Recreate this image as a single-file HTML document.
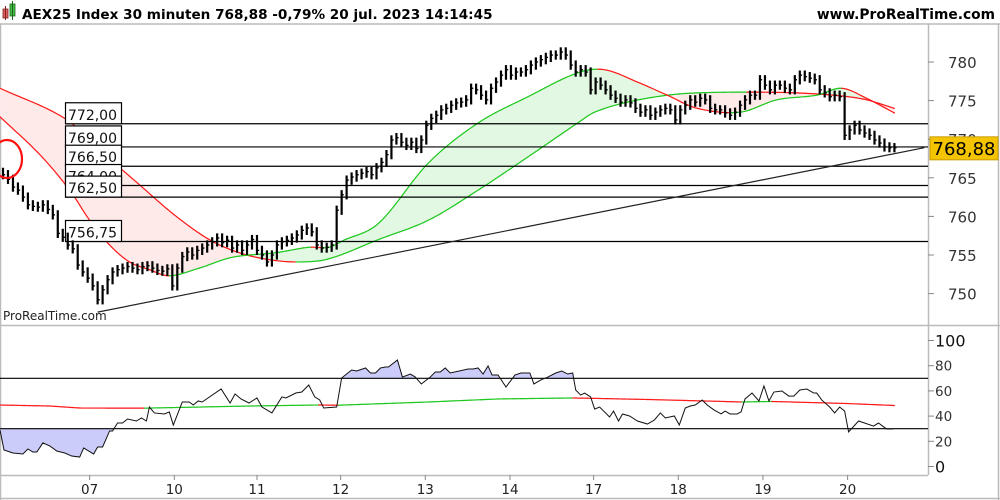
<!DOCTYPE html>
<html><head><meta charset="utf-8"><style>
html,body{margin:0;padding:0;background:#fff;}
svg{display:block;font-family:"DejaVu Sans","Liberation Sans",sans-serif;}
</style></head><body>
<svg id="chart" width="1000" height="500" viewBox="0 0 1000 500">
  <rect x="0" y="0" width="1000" height="500" fill="#fff"/>
  <g>
    <rect x="3" y="9" width="5" height="9" fill="#e06060" stroke="#802020" stroke-width="0.8"/>
    <line x1="5.5" y1="6" x2="5.5" y2="20" stroke="#802020"/>
    <rect x="10" y="4" width="5" height="12" fill="#40c040" stroke="#206020" stroke-width="0.8"/>
    <line x1="12.5" y1="1" x2="12.5" y2="20" stroke="#206020"/>
    <text x="22" y="19" font-size="13.6" font-weight="bold" fill="#000">AEX25 Index 30 minuten 768,88 -0,79% 20 jul. 2023 14:14:45</text>
    <text x="995" y="19" font-size="13.8" font-weight="bold" fill="#000" text-anchor="end">www.ProRealTime.com</text>
  </g>
  <g stroke="#bbb" stroke-width="1.5" fill="none">
    <line x1="0" y1="24" x2="1000" y2="24"/>
    <line x1="0" y1="325.5" x2="1000" y2="325.5"/>
    <line x1="0" y1="475.5" x2="928" y2="475.5"/>
    <line x1="928.5" y1="24" x2="928.5" y2="475"/>
    <line x1="0.5" y1="24" x2="0.5" y2="500"/>
    <line x1="998.5" y1="24" x2="998.5" y2="500"/>
    <line x1="0" y1="498.5" x2="1000" y2="498.5"/>
  </g>
  <g id="main"></g>
  <g id="rsi"></g>
  <text x="3" y="320" font-size="12" fill="#222">ProRealTime.com</text>
</svg>
<script>
const closes=[765.4,764.8,763.8,763.4,762.5,761.5,761.3,761.2,761.5,760.9,760.2,757.8,757.3,756.3,755.8,753.7,752.8,752.0,751.0,749.2,
750.5,751.8,752.8,753.1,753.3,753.5,753.3,753.1,753.5,753.6,753.3,753.0,752.9,753.2,751.0,753.3,754.8,755.4,755.0,755.6,
755.9,756.3,756.7,757.2,756.6,756.9,755.9,756.3,755.6,756.3,757.0,755.6,755.0,754.1,755.0,756.3,756.7,756.9,757.2,757.6,
758.2,758.5,758.0,756.3,755.9,756.0,756.3,760.8,762.8,764.7,765.1,765.4,765.6,765.8,765.4,766.3,767.0,768.0,769.9,770.2,
769.6,769.2,769.6,768.8,769.9,771.8,772.7,773.1,773.8,774.0,774.4,774.7,774.8,775.1,776.6,776.4,775.7,775.1,776.6,777.4,
778.3,779.0,778.3,778.7,778.7,779.0,779.6,780.0,780.3,780.6,780.9,780.9,781.3,780.9,779.6,778.7,779.0,778.7,776.4,777.4,
777.0,776.4,775.7,775.3,774.8,775.1,774.7,774.0,773.5,773.8,773.1,773.5,773.8,774.0,773.8,772.5,773.8,774.4,775.1,774.8,
775.3,775.1,774.0,773.8,773.8,773.4,773.1,773.5,774.4,775.1,775.7,775.7,777.7,777.0,776.4,777.0,777.0,776.6,776.4,777.7,
778.3,778.1,777.9,777.7,776.4,776.0,775.5,775.7,775.5,770.5,771.2,771.8,771.2,770.8,770.5,769.9,769.5,769.0,768.9,768.9];
const slowT=[-0.6,12.4,19.4,27.4,34.4,41.4,47.4,53.4,59.4,65.4,75.4,85.4,95.4,105.4,115.4,118.8,125.4,133.4,139.4,149.4,159.4,168.4,173.4,179];
const slowV=[776.6,772.7,768.6,764.1,760.2,757.0,755.3,754.4,754.1,754.5,757.0,759.5,763.4,767.7,772.1,773.5,774.8,775.7,776.0,776.1,776.0,775.6,775.1,774.0];
const fastT=[-0.6,7.4,13.4,17.4,21.4,25.4,29.4,33.4,39.4,46,54.8,61.4,65.4,68.4,75.4,85.4,95.4,105.4,115.4,120.8,127.4,133.4,139.4,148,155.4,163.4,168.4,173.4,179];
const fastV=[772.9,768.0,763.4,759.5,756.3,754.1,753.1,752.3,753.3,754.7,755.3,756.0,756.0,756.9,759.1,766.9,772.1,775.5,778.6,779.0,777.4,775.7,774.0,773.5,775.1,775.7,776.6,775.3,773.4];
const levels=[772.00,769.00,766.50,764.00,762.50,756.75];
const trendT=[19,185];
const trendV=[747.6,768.9];
const lastPrice=768.88;
const priceTicks=[780,775,770,765,760,755,750];
const dayLabels=["07","10","11","12","13","14","17","18","19","20"];
const dayBars=[17.4,34.4,51.0,67.8,84.8,101.8,118.6,135.6,152.6,169.6];
const rsiT=[-0.6,0.2,2,4,5,6,6.8,8,9.4,10.8,12.4,13.8,15.4,16.2,18.2,19,20,21.4,22,23,24,25,26.8,27.8,28.8,29.4,30.4,32.4,33.4,34.2,36,37.4,38.2,39.2,40,43.8,45.6,46.6,47.8,49.4,51,52,54,56,56.8,58.8,60,61.4,62.6,63.6,64.4,67,68,70,71,72.8,73.8,74.8,75.8,76.8,77.4,79.2,80.2,81.8,82.8,84,85.8,86.8,87.8,88.8,89.8,93.4,94.4,95.4,96.4,97.4,98.2,99.4,101,102.8,104,105.8,106.6,108,109.4,111,112.2,113.4,114.4,115,116,116.8,118,118.8,119.8,121.8,122.6,123.6,124.4,125.8,127.4,129.4,130.8,132,133,134.8,135.8,137,138,139,140.4,141.4,142.8,144.2,145,146,147.4,148.2,149,150.4,151.8,152.8,153.8,154.8,156.4,157.8,158.8,160,161.4,162.8,163.4,164.4,166,167,168,169,169.8,171.8,173,174.8,175.8,177.4,178.8];
const rsiV=[29.0,13.1,10.7,9.9,13.9,11.5,11.5,18.7,16.3,12.3,10.7,8.3,7.5,14.7,9.9,15.5,15.5,28.2,28.2,34.5,34.5,37.7,36.1,38.5,36.1,47.2,42.5,41.7,43.3,32.9,51.2,51.2,48.8,52.0,51.2,61.5,50.4,57.5,53.6,50.4,54.4,47.2,42.5,55.2,54.4,58.3,59.1,64.7,55.2,52.8,46.4,47.2,70.2,76.6,75.8,78.2,74.2,74.2,78.2,79.0,79.0,84.5,71.0,73.4,71.0,65.5,71.0,75.0,75.0,78.2,74.2,77.4,77.4,78.2,73.4,79.8,72.6,72.6,63.1,72.6,74.2,74.2,65.5,68.7,71.0,74.2,75.8,73.4,74.2,60.7,56.7,58.3,55.2,45.6,47.2,39.3,44.0,36.1,41.7,40.1,36.1,33.7,36.9,42.5,38.5,40.1,32.9,46.4,48.0,48.8,52.8,48.8,44.8,41.7,44.0,41.7,41.7,43.3,53.6,58.3,52.0,63.9,52.0,59.1,59.9,55.9,55.9,60.7,61.5,58.3,58.3,52.8,47.2,42.5,47.2,44.0,27.4,36.1,34.5,32.1,34.5,29.8,29.8];
const sigT=[-0.6,9.4,15.4,28.4,49.4,63.4,67.4,85.4,99.4,114.4,129.4,148.4,154.4,169.4,179];
const sigV=[48.8,48.0,46.4,46.3,48.0,48.8,48.65,51.2,53.6,54.4,53.2,51.2,51.6,50.0,48.4];
const rsiTicks=[100,80,60,40,20,0];
const rsiLevels=[70,30];

const NS="http://www.w3.org/2000/svg";
const X=t=>3+t*4.98;
const Y=v=>62+(780-v)*7.72;
const R=v=>466.5-v*1.26;
const main=document.getElementById('main'), rsi=document.getElementById('rsi');
function mk(tag,attrs,parent){const e=document.createElementNS(NS,tag);for(const k in attrs)e.setAttribute(k,attrs[k]);parent.appendChild(e);return e;}
function interp(T,V,t){if(t<=T[0])return V[0];for(let i=1;i<T.length;i++){if(t<=T[i]){const f=(t-T[i-1])/(T[i]-T[i-1]);return V[i-1]+f*(V[i]-V[i-1]);}}return V[V.length-1];}
// smooth (Catmull-Rom style) interpolation
function smooth(T,V,t){
  const n=T.length;
  if(t<=T[0])return V[0];if(t>=T[n-1])return V[n-1];
  let i=1;while(t>T[i])i++;
  const a=i-1,b=i;
  const h=T[b]-T[a],f=(t-T[a])/h;
  const m=k=>{if(k<=0)return (V[1]-V[0])/(T[1]-T[0]);if(k>=n-1)return (V[n-1]-V[n-2])/(T[n-1]-T[n-2]);return (V[k+1]-V[k-1])/(T[k+1]-T[k-1]);};
  const ma=m(a)*h,mb=m(b)*h;
  const f2=f*f,f3=f2*f;
  return (2*f3-3*f2+1)*V[a]+(f3-2*f2+f)*ma+(-2*f3+3*f2)*V[b]+(f3-f2)*mb;
}

// MA band fill and lines
const fillG=mk('g',{},main);


const t0=-0.6,t1=179,st=0.5;
for(let t=t0;t<t1;t+=st){
  const ta=t,tb=Math.min(t+st,t1);
  const fa=smooth(fastT,fastV,ta),fb=smooth(fastT,fastV,tb),sa=smooth(slowT,slowV,ta),sb=smooth(slowT,slowV,tb);
  const col=(fa+fb)<(sa+sb)?'#ffeaea':'#e2f8e2';
  mk('polygon',{points:`${X(ta)},${Y(fa)} ${X(tb)+0.3},${Y(fb)} ${X(tb)+0.3},${Y(sb)} ${X(ta)},${Y(sa)}`,fill:col,stroke:'none'},fillG);
}
function slopeLine(T,V,name,ymap,parent,w,fn){
  const g=mk('g',{},parent);
  
  
  for(let t=T[0];t<T[T.length-1];t+=st){
    const tb=Math.min(t+st,T[T.length-1]);
    const a=fn(T,V,t),b=fn(T,V,tb);
    mk('line',{x1:X(t),y1:ymap(a),x2:X(tb),y2:ymap(b),stroke:b>=a?'#1ec81e':'#ff1a1a','stroke-width':w,'stroke-linecap':'round'},g);
  }
}
slopeLine(slowT,slowV,'slow-moving-average',Y,main,1.2,smooth);
slopeLine(fastT,fastV,'fast-moving-average',Y,main,1.2,smooth);

// levels
const lvG=mk('g',{},main);


levels.forEach(v=>{mk('line',{x1:65,y1:Y(v),x2:928,y2:Y(v),stroke:'#000','stroke-width':1.2},lvG);});
levels.forEach(v=>{
  const y=Y(v);
  const h=21;
  const box=mk('rect',{x:65.5,y:y-h,width:56,height:h,fill:'#fff',stroke:'#000','stroke-width':1.2},lvG);
  
  
  mk('text',{x:68,y:y-4,'font-size':14,fill:'#111'},lvG).textContent=v.toFixed(2).replace('.',',');
});

// trendline
const tl=mk('line',{x1:X(trendT[0]),y1:Y(trendV[0]),x2:X(trendT[1]),y2:Y(trendV[1]),stroke:'#222','stroke-width':1.2},main);



// bars
const barG=mk('g',{},main);


closes.forEach((c,i)=>{
  const o=i>0?closes[i-1]:c+0.3;
  const hi=Math.max(o,c)+0.6,lo=Math.min(o,c)-0.6;
  const x=X(i);
  const b=mk('line',{x1:x,y1:Y(hi),x2:x,y2:Y(lo),stroke:'#000','stroke-width':2.2},barG);
  
  
  mk('line',{x1:x,y1:Y(c),x2:x+2.2,y2:Y(c),stroke:'#000','stroke-width':1.3},barG);
});

// circle marker
const circ=mk('ellipse',{cx:7,cy:159,rx:15,ry:19,fill:'none',stroke:'#ff1010','stroke-width':2.2},main);



// price axis
const axG=mk('g',{},main);


priceTicks.forEach(v=>{
  mk('line',{x1:928,y1:Y(v),x2:934,y2:Y(v),stroke:'#888'},axG);
  mk('text',{x:948,y:Y(v)+6,'font-size':15,fill:'#333'},axG).textContent=String(v);
});
const pl=mk('rect',{x:930,y:Y(lastPrice)-11,width:68,height:23,fill:'#f5c400',stroke:'#c89a00'},axG);


mk('text',{x:964,y:Y(lastPrice)+7,'font-size':18,fill:'#000','text-anchor':'middle'},axG).textContent=lastPrice.toFixed(2).replace('.',',');

// RSI
const clipA=mk('clipPath',{id:'above'},rsi);mk('rect',{x:0,y:326,width:928,height:R(70)-326},clipA);
const clipB=mk('clipPath',{id:'below'},rsi);mk('rect',{x:0,y:R(30),width:928,height:475-R(30)},clipB);
let pts=rsiT.map((t,i)=>`${X(t)},${R(rsiV[i])}`).join(' ');
const x0=X(rsiT[0]),xN=X(rsiT[rsiT.length-1]);
const fa=mk('polygon',{points:`${x0},${R(70)} ${pts} ${xN},${R(70)}`,fill:'#ccccfa','clip-path':'url(#above)'},rsi);


const fb=mk('polygon',{points:`${x0},${R(30)} ${pts} ${xN},${R(30)}`,fill:'#ccccfa','clip-path':'url(#below)'},rsi);


rsiLevels.forEach(v=>{const l=mk('line',{x1:0,y1:R(v),x2:928,y2:R(v),stroke:'#000','stroke-width':1.2},rsi);

});
slopeLine(sigT,sigV,'rsi-signal-line',R,rsi,1.2,interp);
const rl=mk('polyline',{points:pts,fill:'none',stroke:'#111','stroke-width':1},rsi);


const raG=mk('g',{},rsi);


rsiTicks.forEach(v=>{
  mk('line',{x1:928,y1:R(v),x2:934,y2:R(v),stroke:'#888'},raG);
  const big=(v===100||v===0);
  mk('text',{x:935,y:R(v)+(big?6:5),'font-size':big?16:13.5,fill:big?'#111':'#333'},raG).textContent=String(v);
});
// x axis
const xG=mk('g',{},rsi);


dayLabels.forEach((d,i)=>{
  const x=X(dayBars[i]);
  mk('line',{x1:x,y1:475,x2:x,y2:480,stroke:'#888'},xG);
  mk('text',{x:x,y:494,'font-size':13.5,fill:'#222','text-anchor':'middle'},xG).textContent=d;
});
</script>
</body></html>
